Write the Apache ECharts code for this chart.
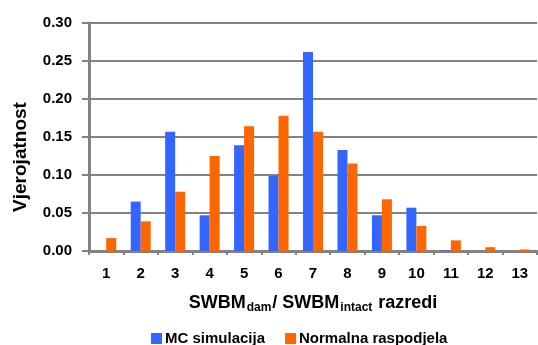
<!DOCTYPE html>
<html>
<head>
<meta charset="utf-8">
<script src="https://cdn.jsdelivr.net/npm/echarts@6/dist/echarts.min.js"></script>
<style>
  html, body { margin: 0; padding: 0; background: #fff; }
  #chart { width: 538px; height: 345px; }
</style>
</head>
<body>
<div id="chart"></div>
<script>
// razredi (classes)
const categories = ['1', '2', '3', '4', '5', '6', '7', '8', '9', '10', '11', '12', '13']
const mcValues = [0, 0.065, 0.157, 0.047, 0.139, 0.099, 0.262, 0.133, 0.047, 0.057, 0.001, 0, 0]
const normalValues = [0.017, 0.039, 0.078, 0.125, 0.164, 0.178, 0.157, 0.115, 0.068, 0.033, 0.014, 0.005, 0.002]
const seriesNames = ['MC simulacija', 'Normalna raspodjela']

const font = '"Liberation Sans", Arial, sans-serif'
const gray = '#828282'

const chart = echarts.init(document.getElementById('chart'))
const option = {
  animation: false,
  textStyle: { fontFamily: font },
  grid: { left: 89, right: 1, top: 23, bottom: 94 },
  legend: {
    data: seriesNames,
    left: 146,
    top: 326,
    itemWidth: 11,
    itemHeight: 11,
    itemGap: 20,
    icon: 'rect',
    textStyle: { fontFamily: font, fontWeight: 'bold', fontSize: 15, color: '#000', padding: [0, 0, 0, -2] }
  },
  xAxis: {
    type: 'category',
    data: categories,
    axisLine: { lineStyle: { color: gray, width: 3 } },
    axisTick: { show: true, length: 4, lineStyle: { color: gray, width: 2 } },
    axisLabel: { fontFamily: font, fontWeight: 'bold', fontSize: 15, color: '#000', margin: 15 },
    name: '{a|SWBM}{s|dam}{a|/ SWBM}{s|intact}{a| razredi}',
    nameLocation: 'middle',
    nameGap: 41,
    nameTextStyle: {
      rich: {
        a: { fontFamily: font, fontWeight: 'bold', fontSize: 18, color: '#000', lineHeight: 22, verticalAlign: 'middle' },
        s: { fontFamily: font, fontWeight: 'bold', fontSize: 12, color: '#000', lineHeight: 12, verticalAlign: 'bottom', padding: [0, 1, 0, 1] }
      }
    }
  },
  yAxis: {
    type: 'value',
    min: 0,
    max: 0.3,
    interval: 0.05,
    axisLine: { show: true, lineStyle: { color: gray, width: 3 } },
    axisTick: { show: true, length: 7, lineStyle: { color: gray, width: 2 } },
    axisLabel: {
      fontFamily: font, fontWeight: 'bold', fontSize: 15, color: '#000', margin: 17,
      formatter: (v) => v.toFixed(2)
    },
    splitLine: { lineStyle: { color: gray, width: 2 } },
    name: 'Vjerojatnost',
    nameLocation: 'middle',
    nameRotate: 90,
    nameGap: 59,
    nameTextStyle: { fontFamily: font, fontWeight: 'bold', fontSize: 19, color: '#000', padding: [0, 40, 0, 0] }
  },
  series: [
    {
      name: seriesNames[0],
      type: 'bar',
      data: mcValues,
      barGap: '0%',
      barCategoryGap: '42%',
      itemStyle: { color: '#3366FF' }
    },
    {
      name: seriesNames[1],
      type: 'bar',
      data: normalValues,
      barGap: '0%',
      barCategoryGap: '42%',
      itemStyle: { color: '#FF6600' }
    }
  ]
}
chart.setOption(option)
</script>
</body>
</html>
